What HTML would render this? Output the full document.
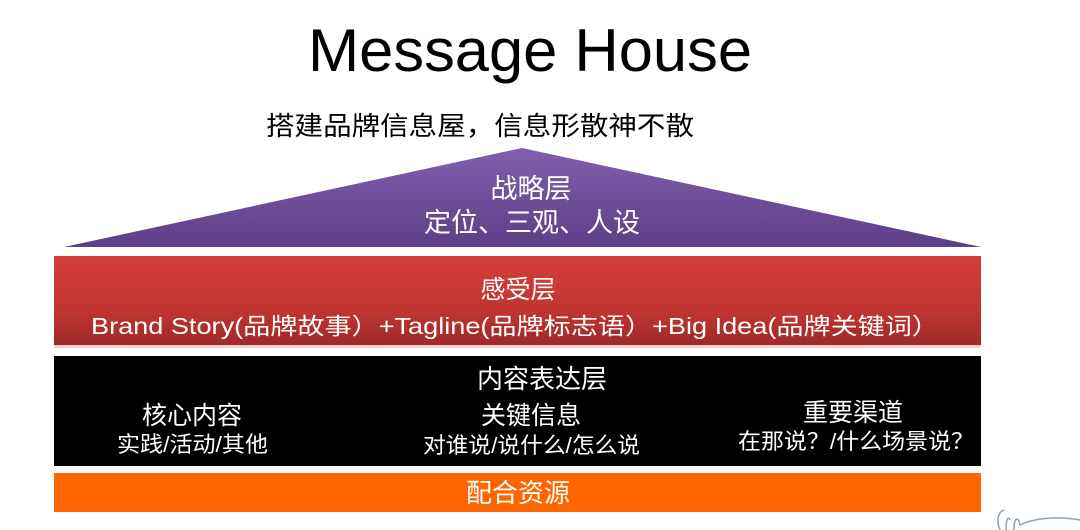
<!DOCTYPE html>
<html><head><meta charset="utf-8"><style>
html,body{margin:0;padding:0;background:#fff;width:1080px;height:530px;overflow:hidden}
svg text{font-family:"Liberation Sans","Noto Sans CJK SC",sans-serif}
</style></head><body>
<svg width="1080" height="530" viewBox="0 0 1080 530" xmlns="http://www.w3.org/2000/svg">
<defs>
<linearGradient id="pg" x1="0" y1="0" x2="0" y2="1"><stop offset="0" stop-color="#8060ac"/><stop offset="1" stop-color="#5d3f87"/></linearGradient>
<linearGradient id="rg" x1="0" y1="0" x2="0" y2="1"><stop offset="0" stop-color="#d33e3a"/><stop offset="0.6" stop-color="#c23532"/><stop offset="1" stop-color="#9e2a28"/></linearGradient>
</defs>
<text x="530" y="71" font-size="60" text-anchor="middle" fill="#000" textLength="444" lengthAdjust="spacingAndGlyphs">Message House</text>
<text x="266" y="135" font-size="26" fill="#000" textLength="428" lengthAdjust="spacingAndGlyphs">搭建品牌信息屋，信息形散神不散</text>
<polygon points="522,148 981,247 64,247" fill="url(#pg)"/>
<text x="531" y="198" font-size="27" fill="#fff" text-anchor="middle">战略层</text>
<text x="532" y="232" font-size="27" fill="#fff" text-anchor="middle">定位、三观、人设</text>
<rect x="54" y="256" width="927" height="89" fill="url(#rg)"/>
<rect x="54" y="345" width="927" height="3" fill="#e6b0ae" opacity="0.6"/>
<text x="518" y="298" font-size="25" fill="#fff" text-anchor="middle">感受层</text>
<text x="91" y="334" font-size="23" fill="#fff" textLength="848" lengthAdjust="spacingAndGlyphs">Brand Story(品牌故事）+Tagline(品牌标志语）+Big Idea(品牌关键词）</text>
<rect x="54" y="356" width="927" height="110" fill="#000"/>
<text x="542" y="388" font-size="26" fill="#fff" text-anchor="middle">内容表达层</text>
<text x="192" y="424" font-size="25" fill="#fff" text-anchor="middle">核心内容</text>
<text x="117" y="452" font-size="22" fill="#fff" textLength="151" lengthAdjust="spacingAndGlyphs">实践/活动/其他</text>
<text x="531" y="424" font-size="25" fill="#fff" text-anchor="middle">关键信息</text>
<text x="423" y="453" font-size="22" fill="#fff" textLength="217" lengthAdjust="spacingAndGlyphs">对谁说/说什么/怎么说</text>
<text x="853" y="421" font-size="25" fill="#fff" text-anchor="middle">重要渠道</text>
<text x="738" y="449" font-size="22" fill="#fff" textLength="236" lengthAdjust="spacingAndGlyphs">在那说？/什么场景说？</text>
<rect x="54" y="473" width="927" height="39" fill="#ff6600"/>
<text x="518" y="502" font-size="26" fill="#fff" text-anchor="middle">配合资源</text>
<path d="M1000 530 C996 520 998 512 1004 510 M1006 530 C1006 520 1008 515 1010 520 M1014 530 C1014 518 1018 515 1020 525 C1030 520 1050 515 1080 520" stroke="#8aa0c8" stroke-width="1.5" fill="none"/>
</svg>
</body></html>
